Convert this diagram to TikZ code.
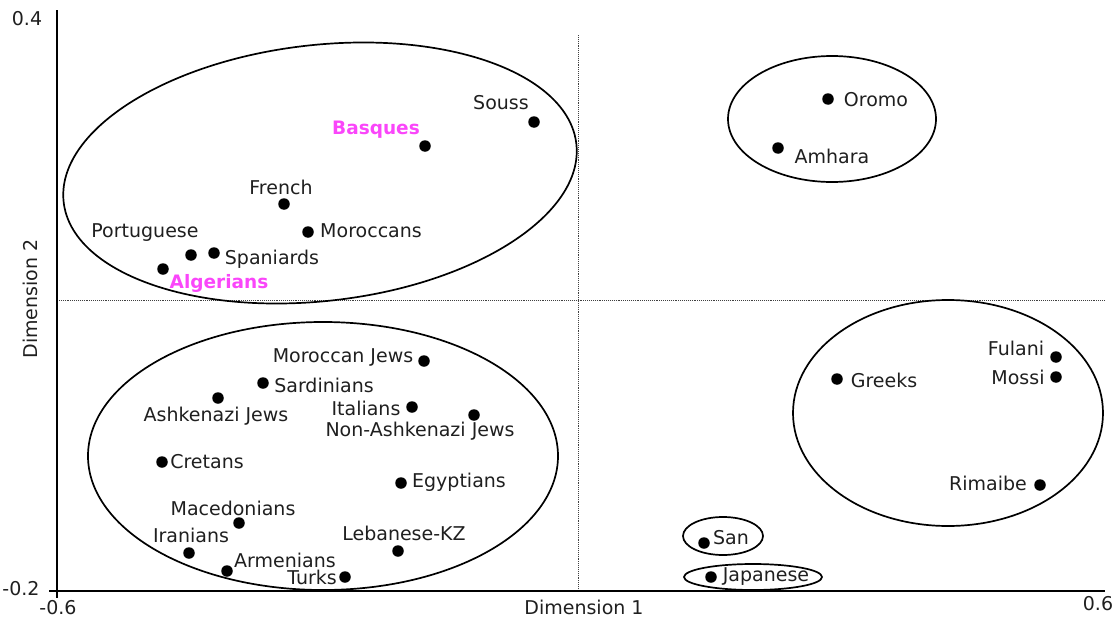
\documentclass[tikz,border=0pt]{standalone}
\usepackage{fontspec}
\setmainfont{DejaVu Sans}
\usepackage{xcolor}
\usetikzlibrary{shapes.geometric}

\definecolor{hilite}{RGB}{250,70,250}

\begin{document}
\begin{tikzpicture}[
  x=1pt, y=-1pt,
  every node/.style={font=\fontsize{19}{21}\selectfont, text=black!88},
  pt/.style={circle, fill=black, inner sep=0pt, minimum size=11.5pt},
  lbl/.style={inner sep=0pt, anchor=center},
  hl/.style={lbl, text=hilite, font=\fontsize{18.5}{21}\selectfont\bfseries},
  group/.style={draw, ellipse, line width=1.7pt, inner sep=0pt},
  axis/.style={line width=2.4pt},
  guide/.style={densely dotted, line width=0.9pt, black!75},
]
\useasboundingbox (0,0) rectangle (1117,621);

% guide lines and axes
\draw[guide] (578,35) -- (578,591);
\draw[guide] (57,300) -- (1105,300);
\draw[axis] (57,10) -- (57,598);
\draw[axis] (49,591) -- (1105,591);
\node[lbl] (ytop) at (27,19) {0.4};
\node[lbl] (ybot) at (21,589) {-0.2};
\node[lbl] (xleft) at (58,608) {-0.6};
\node[lbl] (xright) at (1098,604) {0.6};
\node[lbl] (xtitle) at (584,607) {Dimension 1};
\node[lbl, rotate=90] (ytitle) at (30,299) {Dimension 2};

% clusters
\node[group, minimum width=516pt, minimum height=256pt, rotate=6.5] (west) at (320,173) {};
\node[group, minimum width=208pt, minimum height=126pt] (east) at (832,119) {};
\node[group, minimum width=470pt, minimum height=268pt] (med) at (323,456) {};
\node[group, minimum width=310pt, minimum height=226pt] (africa) at (948,413) {};
\node[group, minimum width=80pt, minimum height=38pt] (sangrp) at (723,536) {};
\node[group, minimum width=138pt, minimum height=26pt] (japgrp) at (753,577) {};

% upper left
\node[pt] (souss) at (534,122) {};
\node[lbl] (souss-l) at (501,103) {Souss};
\node[pt] (basques) at (425,146) {};
\node[hl] (basques-l) at (376,130) {Basques};
\node[pt] (french) at (284,204) {};
\node[lbl] (french-l) at (281,187) {French};
\node[pt] (moroccans) at (308,232) {};
\node[lbl] (moroccans-l) at (371,231) {Moroccans};
\node[pt] (portuguese) at (191,255) {};
\node[lbl] (portuguese-l) at (145,233) {Portuguese};
\node[pt] (spaniards) at (214,253) {};
\node[lbl] (spaniards-l) at (272,259) {Spaniards};
\node[pt] (algerians) at (163,269) {};
\node[hl] (algerians-l) at (219,283) {Algerians};

% upper right
\node[pt] (oromo) at (828,99) {};
\node[lbl] (oromo-l) at (876,100) {Oromo};
\node[pt] (amhara) at (778,148) {};
\node[lbl] (amhara-l) at (832,156) {Amhara};

% lower left
\node[pt] (morjews) at (424,361) {};
\node[lbl] (morjews-l) at (343,357) {Moroccan Jews};
\node[pt] (sardinians) at (263,383) {};
\node[lbl] (sardinians-l) at (324,385) {Sardinians};
\node[pt] (ashkenazi) at (218,398) {};
\node[lbl] (ashkenazi-l) at (216,416) {Ashkenazi Jews};
\node[pt] (italians) at (412,407) {};
\node[lbl] (italians-l) at (366,408) {Italians};
\node[pt] (nonashk) at (474,415) {};
\node[lbl] (nonashk-l) at (420,431) {Non-Ashkenazi Jews};
\node[pt] (cretans) at (162,462) {};
\node[lbl] (cretans-l) at (207,462) {Cretans};
\node[pt] (egyptians) at (401,483) {};
\node[lbl] (egyptians-l) at (459,482) {Egyptians};
\node[pt] (macedonians) at (239,523) {};
\node[lbl] (macedonians-l) at (233,508) {Macedonians};
\node[pt] (iranians) at (189,553) {};
\node[lbl] (iranians-l) at (191,535) {Iranians};
\node[pt] (lebanese) at (398,551) {};
\node[lbl] (lebanese-l) at (404,533) {Lebanese-KZ};
\node[pt] (armenians) at (227,571) {};
\node[lbl] (armenians-l) at (285,560) {Armenians};
\node[pt] (turks) at (345,577) {};
\node[lbl] (turks-l) at (312,577) {Turks};

% lower right
\node[pt] (greeks) at (837,379) {};
\node[lbl] (greeks-l) at (884,380) {Greeks};
\node[pt] (fulani) at (1056,357) {};
\node[lbl] (fulani-l) at (1016,348) {Fulani};
\node[pt] (mossi) at (1056,377) {};
\node[lbl] (mossi-l) at (1018,377) {Mossi};
\node[pt] (rimaibe) at (1040,485) {};
\node[lbl] (rimaibe-l) at (988,483) {Rimaibe};
\node[pt] (san) at (704,543) {};
\node[lbl] (san-l) at (731,538) {San};
\node[pt] (japanese) at (711,577) {};
\node[lbl] (japanese-l) at (766,577) {Japanese};
\end{tikzpicture}
\end{document}
